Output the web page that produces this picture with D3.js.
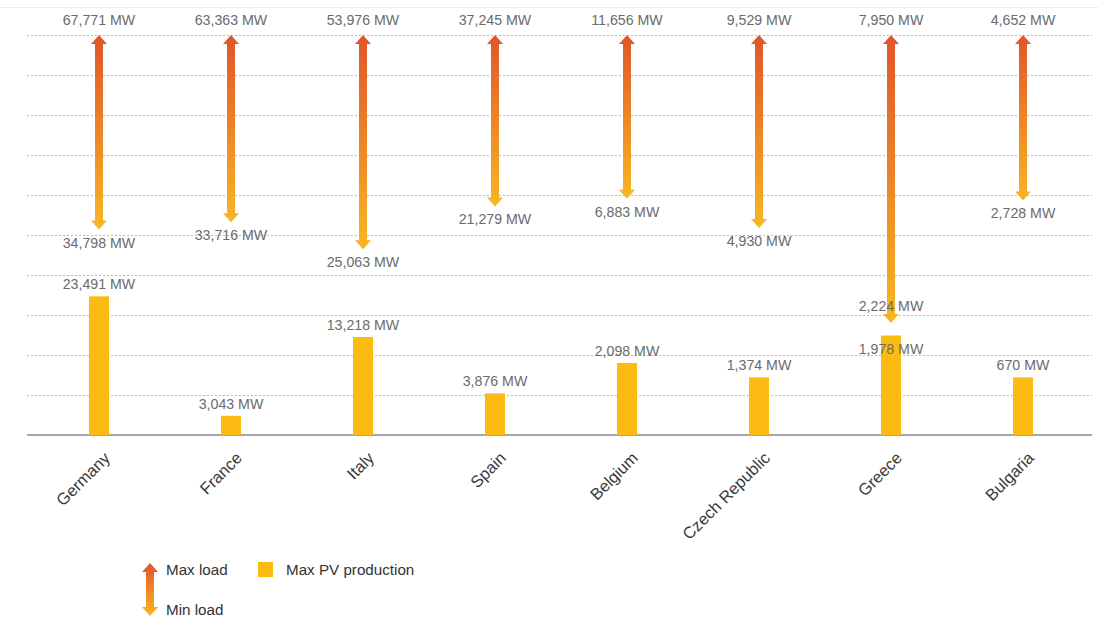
<!DOCTYPE html>
<html>
<head>
<meta charset="utf-8">
<script src="https://cdn.jsdelivr.net/npm/d3@7"></script>
<style>
  html, body { margin: 0; padding: 0; background: #fff; }
  svg { display: block; font-family: "Liberation Sans", Arial, Helvetica, sans-serif; }
</style>
</head>
<body>
<svg id="chart" width="1098" height="619"></svg>
<script>
// Peak load vs peak PV output per country (MW)
const countries = ["Germany", "France", "Italy", "Spain", "Belgium", "Czech Republic", "Greece", "Bulgaria"];
const maxLoad   = [67771, 63363, 53976, 37245, 11656, 9529, 7950, 4652];
const minLoad   = [34798, 33716, 25063, 21279, 6883, 4930, 2224, 2728];
const maxPV     = [23491, 3043, 13218, 3876, 2098, 1374, 1978, 670];
const gridTicks = [0, 0.1, 0.2, 0.3, 0.4, 0.5, 0.6, 0.7, 0.8, 0.9, 1];

const fmt = d3.format(",");
const rows = countries.map((c, i) => ({
  country: c, max: maxLoad[i], min: minLoad[i], pv: maxPV[i]
}));

const svg = d3.select("#chart");
const W = 1098;

// Every country is drawn relative to its own max load
const x = d3.scaleBand().domain(countries).range([33, 1089]).paddingInner(0).paddingOuter(0);
const y = d3.scaleLinear().domain([0, 1]).range([435, 35]);

const defs = svg.append("defs");
const grad = defs.append("linearGradient")
  .attr("id", "loadGrad").attr("x1", 0).attr("y1", 0).attr("x2", 0).attr("y2", 1);
grad.append("stop").attr("offset", "0%").attr("stop-color", "#e1552a");
grad.append("stop").attr("offset", "100%").attr("stop-color", "#f8b623");

// thin rule at top
svg.append("line").attr("x1", 0).attr("x2", W).attr("y1", 7.5).attr("y2", 7.5)
  .attr("stroke", "#ececec").attr("stroke-width", 1);

// dotted gridlines
svg.append("g").selectAll("line")
  .data(gridTicks.filter(t => t > 0))
  .join("line")
  .attr("x1", 27).attr("x2", 1092)
  .attr("y1", d => Math.round(y(d)) + 0.5).attr("y2", d => Math.round(y(d)) + 0.5)
  .attr("stroke", "#b8b8b8").attr("stroke-width", 1).attr("stroke-dasharray", "2,2");

// baseline
svg.append("line").attr("x1", 27).attr("x2", 1092)
  .attr("y1", y(0)).attr("y2", y(0))
  .attr("stroke", "#8a8a8a").attr("stroke-width", 1.5);

const cx = d => x(d.country) + x.bandwidth() / 2;

// PV bars
const barW = 20;
svg.append("g").selectAll("rect")
  .data(rows)
  .join("rect")
  .attr("x", d => cx(d) - barW / 2)
  .attr("y", d => y(d.pv / d.max))
  .attr("width", barW)
  .attr("height", d => y(0) - y(d.pv / d.max))
  .attr("fill", "#fcbb12");

// double-headed load arrows
function arrowPath(xc, yTop, yBot) {
  const sw = 4, hw = 8, hh = 9;
  return `M${xc},${yTop} L${xc + hw},${yTop + hh} L${xc + sw},${yTop + hh} L${xc + sw},${yBot - hh}` +
         ` L${xc + hw},${yBot - hh} L${xc},${yBot} L${xc - hw},${yBot - hh} L${xc - sw},${yBot - hh}` +
         ` L${xc - sw},${yTop + hh} L${xc - hw},${yTop + hh} Z`;
}
svg.append("g").selectAll("path")
  .data(rows)
  .join("path")
  .attr("d", d => arrowPath(cx(d), y(1), y(d.min / d.max)))
  .attr("fill", "url(#loadGrad)");

const labelStyle = s => s.attr("font-size", 14.2).attr("fill", "#6b6b6b")
  .attr("text-anchor", "middle");

// a min-load tip sitting right on its PV bar pushes labels apart
const crowded = d => Math.abs(y(d.min / d.max) - y(d.pv / d.max)) < 30;

// max load labels
svg.append("g").selectAll("text")
  .data(rows).join("text")
  .attr("x", cx).attr("y", 25)
  .text(d => fmt(d.max) + " MW")
  .call(labelStyle);

// min load labels
svg.append("g").selectAll("text")
  .data(rows).join("text")
  .attr("x", cx)
  .attr("y", d => crowded(d) ? y(d.min / d.max) - 12 : y(d.min / d.max) + 18)
  .text(d => fmt(d.min) + " MW")
  .call(labelStyle);

// PV labels
svg.append("g").selectAll("text")
  .data(rows).join("text")
  .attr("x", cx)
  .attr("y", d => crowded(d) ? y(d.pv / d.max) + 19 : y(d.pv / d.max) - 7)
  .text(d => fmt(d.pv) + " MW")
  .call(labelStyle);

// category axis, rotated labels
const xAxis = svg.append("g")
  .attr("transform", `translate(0,${y(0)})`)
  .call(d3.axisBottom(x).tickSize(0).tickPadding(0));
xAxis.select(".domain").remove();
xAxis.selectAll("text")
  .attr("font-family", "'Liberation Sans', Arial, sans-serif")
  .attr("font-size", 16.5)
  .attr("fill", "#3a3a3a")
  .attr("text-anchor", "end")
  .attr("dy", "0.35em")
  .attr("transform", "translate(8,20) rotate(-45)");

// legend
const lg = svg.append("g");
lg.append("path").attr("d", arrowPath(150, 563, 616)).attr("fill", "url(#loadGrad)");
lg.append("text").attr("x", 166).attr("y", 575).text("Max load")
  .attr("font-size", 15.2).attr("fill", "#333");
lg.append("text").attr("x", 166).attr("y", 615).text("Min load")
  .attr("font-size", 15.2).attr("fill", "#333");
lg.append("rect").attr("x", 258).attr("y", 562).attr("width", 15).attr("height", 15).attr("fill", "#fcbb12");
lg.append("text").attr("x", 286).attr("y", 575).text("Max PV production")
  .attr("font-size", 15.2).attr("fill", "#333");
</script>
</body>
</html>
